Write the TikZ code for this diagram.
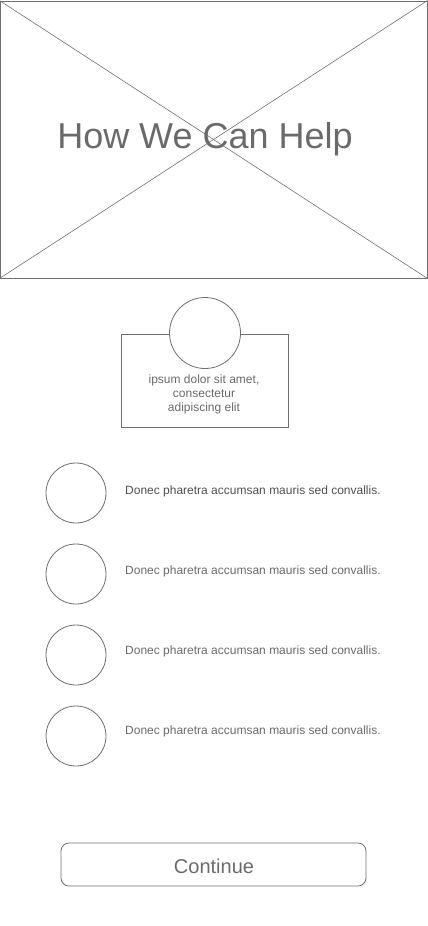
\documentclass[tikz,border=0pt]{standalone}
\usepackage{fontspec}
\setmainfont{Liberation Sans}
\usepackage{tikz}
\usetikzlibrary{positioning}
\definecolor{wfline}{HTML}{6E6E6E}
\definecolor{wftext}{HTML}{6A6A6A}
\definecolor{wfdark}{HTML}{505050}

\begin{document}
\begin{tikzpicture}[x=1pt,y=-1pt,node distance=81pt,on grid,
  box/.style={draw=wfline,line width=0.8pt,inner sep=0pt},
  dot/.style={circle,draw=wfline,line width=0.8pt,fill=white,minimum size=60pt,inner sep=0pt},
  item/.style={text=wftext,font=\fontsize{12}{14}\selectfont,inner sep=0pt}]
  \useasboundingbox (0,0) rectangle (428,926);
  % header image placeholder
  \node[box,minimum width=427pt,minimum height=277pt] (img) at (213.5,139.5) {};
  \draw[wfline,line width=0.6pt] (img.north west) -- (img.south east);
  \draw[wfline,line width=0.6pt] (img.south west) -- (img.north east);
  \node[text=wftext,font=\fontsize{36}{40}\selectfont,inner sep=0pt] (title) at (205,139) {How We Can Help};
  % card with avatar
  \node[box,minimum width=167pt,minimum height=93pt] (card) at (204.5,380.5) {};
  \node[dot,minimum size=71pt] (avatar) at (205,333) {};
  \node[text=wftext,font=\fontsize{12}{14}\selectfont,align=center,inner sep=0pt] (cardtext) at (204,394.5)
    {ipsum dolor sit amet,\\consectetur\\adipiscing elit};
  % list
  \node[dot] (c1) at (76,493) {};
  \node[dot] (c2) [below = of c1] {};
  \node[dot] (c3) [below = of c2] {};
  \node[dot] (c4) [below = of c3] {};
  \node[item,text=wfdark] (t1) [right = 49pt of c1,anchor=west,yshift=2pt] {Donec pharetra accumsan mauris sed convallis.};
  \node[item] (t2) [right = 49pt of c2,anchor=west,yshift=3pt] {Donec pharetra accumsan mauris sed convallis.};
  \node[item] (t3) [right = 49pt of c3,anchor=west,yshift=4pt] {Donec pharetra accumsan mauris sed convallis.};
  \node[item] (t4) [right = 49pt of c4,anchor=west,yshift=5pt] {Donec pharetra accumsan mauris sed convallis.};
  % button
  \node[box,rounded corners=8pt,minimum width=305pt,minimum height=43pt] (btn) at (213.5,864.5) {};
  \node[text=wftext,font=\fontsize{20}{24}\selectfont,inner sep=0pt] (btntext) at (214,866) {Continue};
\end{tikzpicture}
\end{document}
